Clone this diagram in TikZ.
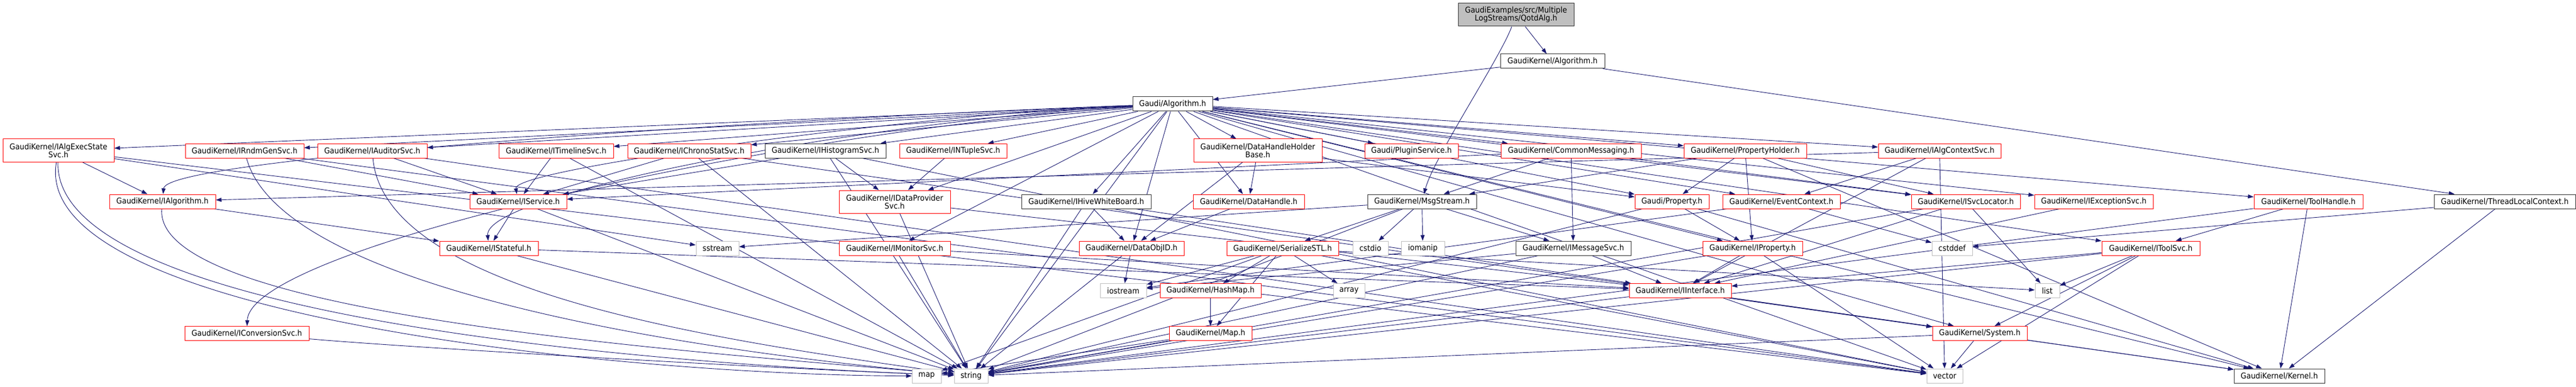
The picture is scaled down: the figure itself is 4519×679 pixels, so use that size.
\documentclass[tikz,border=0pt]{standalone}
\usepackage{fontspec}
\setmainfont{DejaVu Sans}[FakeStretch=0.92]
\usepackage{tikz}
\usetikzlibrary{arrows.meta,backgrounds}
\definecolor{edgeblue}{HTML}{191970}
\definecolor{boxgray}{HTML}{BFBFBF}
\tikzset{%
  font=\fontsize{14}{14}\selectfont,
  hdr/.style    = { rectangle, draw=black!80, line width=1pt, fill=white, minimum height=25pt, inner sep=2pt, align=center },
  hdrred/.style = { hdr, draw=red },
  syshdr/.style = { hdr, draw=boxgray },
  roothdr/.style= { hdr, fill=boxgray, minimum height=40pt },
  twoline/.style= { minimum height=40pt },
  inc/.style    = { draw=edgeblue, line width=0.9pt, -{Triangle[length=10pt,width=7pt]} }
}
\begin{document}
\begin{tikzpicture}[x=1pt,y=-1pt]
	\useasboundingbox (0,0) rectangle (4519,679);
	% top
	\node[roothdr, minimum width=203pt] (qotd) at (2659.5,26) {GaudiExamples/src/Multiple\\LogStreams/QotdAlg.h};
	\node[hdr, minimum width=183pt] (gkalg) at (2723.5,107.5) {GaudiKernel/Algorithm.h};
	\node[hdr, minimum width=140pt] (galg) at (2057,182.5) {Gaudi/Algorithm.h};
	% third row
	\node[hdrred, twoline, minimum width=195pt] (algexec) at (102.5,264) {GaudiKernel/IAlgExecState\\Svc.h};
	\node[hdrred, minimum width=208pt] (rndm) at (429,264.5) {GaudiKernel/IRndmGenSvc.h};
	\node[hdrred, minimum width=192pt] (auditor) at (653,264.5) {GaudiKernel/IAuditorSvc.h};
	\node[hdrred, minimum width=201pt] (timeline) at (975.5,264.5) {GaudiKernel/ITimelineSvc.h};
	\node[hdrred, minimum width=216pt] (chrono) at (1209,264.5) {GaudiKernel/IChronoStatSvc.h};
	\node[hdr, minimum width=212pt] (histo) at (1448,264.5) {GaudiKernel/IHistogramSvc.h};
	\node[hdrred, minimum width=188pt] (ntuple) at (1672,264.5) {GaudiKernel/INTupleSvc.h};
	\node[hdrred, twoline, minimum width=225pt] (dhhb) at (2206.5,264) {GaudiKernel/DataHandleHolder\\Base.h};
	\node[hdrred, minimum width=164pt] (plugin) at (2476,264.5) {Gaudi/PluginService.h};
	\node[hdrred, minimum width=246pt] (commsg) at (2756,264.5) {GaudiKernel/CommonMessaging.h};
	\node[hdrred, minimum width=215pt] (propholder) at (3061.5,264.5) {GaudiKernel/PropertyHolder.h};
	\node[hdrred, minimum width=215pt] (algctx) at (3402.5,264.5) {GaudiKernel/IAlgContextSvc.h};
	% fourth row
	\node[hdrred, minimum width=186pt] (ialgorithm) at (285,353.5) {GaudiKernel/IAlgorithm.h};
	\node[hdrred, minimum width=170pt] (iservice) at (909,353.5) {GaudiKernel/IService.h};
	\node[hdrred, twoline, minimum width=195pt] (dataprov) at (1569.5,354) {GaudiKernel/IDataProvider\\Svc.h};
	\node[hdr, minimum width=227pt] (hivewb) at (1905.5,353.5) {GaudiKernel/IHiveWhiteBoard.h};
	\node[hdrred, minimum width=195pt] (datahandle) at (2190.5,353.5) {GaudiKernel/DataHandle.h};
	\node[hdr, minimum width=191pt] (msgstream) at (2494.5,353.5) {GaudiKernel/MsgStream.h};
	\node[hdrred, minimum width=130pt] (property) at (2933,353.5) {Gaudi/Property.h};
	\node[hdrred, minimum width=206pt] (eventctx) at (3125,353.5) {GaudiKernel/EventContext.h};
	\node[hdrred, minimum width=191pt] (svclocator) at (3448.5,353.5) {GaudiKernel/ISvcLocator.h};
	\node[hdrred, minimum width=208pt] (excsvc) at (3673,353.5) {GaudiKernel/IExceptionSvc.h};
	\node[hdrred, minimum width=191pt] (toolhandle) at (4049.5,353.5) {GaudiKernel/ToolHandle.h};
	\node[hdr, minimum width=248pt] (tlc) at (4394,353.5) {GaudiKernel/ThreadLocalContext.h};
	% fifth row
	\node[hdrred, minimum width=173pt] (istateful) at (857.5,435.5) {GaudiKernel/IStateful.h};
	\node[syshdr, minimum width=75pt] (sstream) at (1258.5,435.5) {sstream};
	\node[hdrred, minimum width=195pt] (monitor) at (1569.5,435.5) {GaudiKernel/IMonitorSvc.h};
	\node[hdrred, minimum width=184pt] (dataobjid) at (1985,435.5) {GaudiKernel/DataObjID.h};
	\node[hdrred, minimum width=196pt] (serialize) at (2250,435.5) {GaudiKernel/SerializeSTL.h};
	\node[syshdr, minimum width=62pt] (cstdio) at (2404,435.5) {cstdio};
	\node[syshdr, minimum width=76pt] (iomanip) at (2496,435.5) {iomanip};
	\node[hdr, minimum width=202pt] (imsgsvc) at (2760,435.5) {GaudiKernel/IMessageSvc.h};
	\node[hdrred, minimum width=175pt] (iproperty) at (3074.5,435.5) {GaudiKernel/IProperty.h};
	\node[syshdr, minimum width=71pt] (cstddef) at (3424.5,435.5) {cstddef};
	\node[hdrred, minimum width=172pt] (itoolsvc) at (3773,435.5) {GaudiKernel/IToolSvc.h};
	% sixth row
	\node[syshdr, minimum width=81pt] (iostream) at (1970.5,510) {iostream};
	\node[hdrred, minimum width=177pt] (hashmap) at (2123.5,510) {GaudiKernel/HashMap.h};
	\node[syshdr, minimum width=55pt] (array) at (2366.5,510) {array};
	\node[hdrred, minimum width=179pt] (iinterface) at (2947.5,510) {GaudiKernel/IInterface.h};
	\node[syshdr, minimum width=43pt] (list) at (3591.5,510) {list};
	% seventh row
	\node[hdrred, minimum width=218pt] (iconv) at (433,585) {GaudiKernel/IConversionSvc.h};
	\node[hdrred, minimum width=145pt] (maph) at (2123.5,585) {GaudiKernel/Map.h};
	\node[hdrred, minimum width=166pt] (system) at (3473,585) {GaudiKernel/System.h};
	% bottom row
	\node[syshdr, minimum width=51pt] (map) at (1625.5,659.5) {map};
	\node[syshdr, minimum width=59pt] (string) at (1703.5,659.5) {string};
	\node[syshdr, minimum width=63pt] (vector) at (3411.5,659.5) {vector};
	\node[hdr, minimum width=159pt] (kernel) at (3998.5,659.5) {GaudiKernel/Kernel.h};

	\begin{pgfonlayer}{background}
	% straight includes
	\foreach \a/\b in {qotd/gkalg, gkalg/galg, gkalg/tlc,
		galg/algexec, galg/rndm, galg/auditor, galg/timeline, galg/chrono, galg/histo,
		galg/ntuple, galg/dhhb, galg/plugin, galg/commsg, galg/propholder, galg/algctx,
		galg/dataprov, galg/hivewb, galg/datahandle,
		galg/property, galg/eventctx, galg/svclocator, galg/excsvc, galg/toolhandle,
		galg/monitor, galg/dataobjid, galg/iproperty, galg/itoolsvc,
		galg/system, galg/string, galg/vector, galg/kernel,
		algexec/ialgorithm, algexec/sstream, algexec/vector,
		rndm/iservice, rndm/vector,
		auditor/iservice, auditor/vector,
		timeline/iservice, timeline/string,
		chrono/iservice, chrono/string, chrono/system,
		histo/iservice, histo/dataprov, histo/string, histo/vector,
		ntuple/dataprov,
		dhhb/datahandle, dhhb/dataobjid, dhhb/property,
		commsg/iservice, commsg/msgstream, commsg/imsgsvc, commsg/svclocator,
		propholder/property, propholder/msgstream, propholder/svclocator, propholder/iproperty, propholder/kernel,
		algctx/ialgorithm, algctx/eventctx, algctx/iinterface, algctx/vector,
		ialgorithm/istateful,
		iservice/istateful, iservice/string,
		dataprov/iinterface, dataprov/string,
		hivewb/dataobjid, hivewb/string, hivewb/iinterface,
		datahandle/dataobjid,
		msgstream/sstream, msgstream/serialize, msgstream/cstdio, msgstream/iomanip, msgstream/imsgsvc, msgstream/string,
		property/iproperty, property/kernel, property/string,
		eventctx/cstddef, eventctx/iostream,
		svclocator/iinterface, svclocator/list, svclocator/string,
		excsvc/iinterface,
		toolhandle/itoolsvc, toolhandle/kernel, toolhandle/string,
		tlc/cstddef, tlc/kernel,
		istateful/iinterface, istateful/string,
		monitor/iinterface, monitor/string,
		dataobjid/iostream, dataobjid/string,
		serialize/hashmap, serialize/maph, serialize/array, serialize/list, serialize/vector, serialize/map, serialize/iostream,
		imsgsvc/iinterface, imsgsvc/string, imsgsvc/iostream,
		iproperty/iinterface, iproperty/string, iproperty/vector,
		itoolsvc/iinterface, itoolsvc/list, itoolsvc/system, itoolsvc/string, itoolsvc/vector,
		hashmap/maph, maph/map, maph/string,
		iinterface/system, iinterface/kernel, iinterface/string,
		system/vector, system/kernel, system/string}
		\draw[inc] (\a) -- (\b);
	% curved includes (y axis points down, so angles are mirrored)
	\foreach \src/\dst/\aout/\dout/\ain/\din in {qotd/msgstream/110/80/-75/80,
		galg/ialgorithm/178/600/-85/80, galg/iconv/176/700/-88/150,
		galg/istateful/177/500/-95/100, galg/iservice/178/400/-100/60,
		algexec/map/100/300/180/500, algexec/string/92/300/182/500,
		rndm/string/75/250/185/500, auditor/string/85/250/188/450,
		ialgorithm/string/95/200/185/500, iconv/string/5/300/182/300}
		\draw[inc] (\src) .. controls +(\aout:\dout) and +(\ain:\din) .. (\dst);
	\end{pgfonlayer}
\end{tikzpicture}
\end{document}
